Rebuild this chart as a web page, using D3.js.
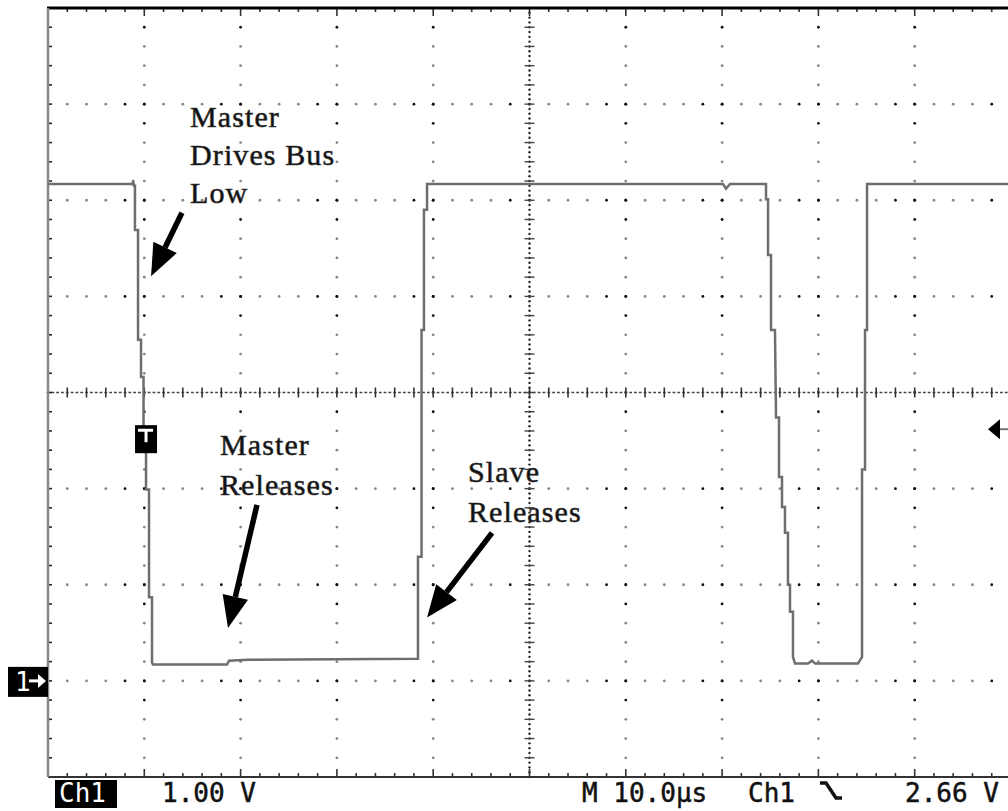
<!DOCTYPE html>
<html>
<head>
<meta charset="utf-8">
<script src="https://cdn.jsdelivr.net/npm/d3@7"></script>
<style>
  html, body { margin: 0; padding: 0; background: #fff; }
  svg { display: block; }
</style>
</head>
<body>
<div id="chart"></div>
<script>
// Ch1 trace, time in µs from left edge of screen, volts (1.00 V/div, 10.0 µs/div)
const traceTime = [0, 8.83, 8.83, 8.93, 9.03, 9.03, 9.35, 9.35, 9.66, 9.66, 9.92, 9.92, 10.18, 10.18, 10.49, 10.49,
  10.80, 10.80, 10.90, 18.59, 18.80, 20.77, 38.42, 38.42, 38.79, 38.79, 39.04, 39.04, 39.36, 39.36,
  70.09, 70.40, 70.82, 74.56, 74.56, 74.77, 74.77, 75.08, 75.08, 75.49, 75.60, 75.91, 75.91, 76.22, 76.22,
  76.53, 76.53, 76.84, 76.84, 77.05, 77.05, 77.36, 77.36, 77.57, 78.92, 79.34, 79.65, 84.11, 84.53, 84.53,
  84.84, 84.84, 85.05, 85.05, 100];
const traceVolts = [5.17, 5.17, 5.21, 5.15, 5.15, 4.69, 4.69, 3.55, 3.55, 3.16, 3.16, 2.61, 2.38, 1.99, 1.99, 0.87,
  0.87, 0.19, 0.17, 0.17, 0.21, 0.22, 0.23, 1.29, 1.29, 3.65, 3.65, 4.90, 4.90, 5.17,
  5.17, 5.12, 5.17, 5.17, 5.01, 5.01, 4.43, 4.43, 3.65, 3.65, 2.74, 2.74, 2.12, 2.12, 1.81,
  1.81, 1.54, 1.54, 1.00, 1.00, 0.72, 0.72, 0.25, 0.18, 0.18, 0.21, 0.18, 0.18, 0.25, 2.20,
  2.20, 3.65, 3.65, 5.17, 5.17];

const triggerTime = 10.18;
const triggerLevel = 2.66;
const groundLevel = 0;

// callouts: label lines, where the text starts, arrow tail and tip (µs, V)
const calloutLines = [["Master", "Drives Bus", "Low"], ["Master", "Releases"], ["Slave", "Releases"]];
const calloutText  = [[14.75, 5.76], [17.86, 2.35], [43.61, 2.07]];
const arrowTail    = [[13.91, 4.87], [21.70, 1.83], [46.11, 1.54]];
const arrowTip     = [[10.70, 4.21], [18.69, 0.55], [39.36, 0.66]];

const statusLabels = ["1.00 V", "M 10.0µs", "Ch1", "2.66 V"];

const W = 1008, H = 811;
const x = d3.scaleLinear().domain([0, 100]).range([48, 1011]);
const y = d3.scaleLinear().domain([-1, 7]).range([777, 8]);

const svg = d3.select('#chart').append('svg').attr('width', W).attr('height', H);
const grid = svg.append('g');

// dotted graticule
const majorX = d3.range(1, 10).filter(k => k !== 5).map(k => k * 10);
const majorY = d3.range(0, 7).filter(k => k !== 3);
const minorY = d3.range(-1, 7.001, 0.2);
const minorX = d3.range(0, 100.01, 2);

majorX.forEach(t => {
  grid.selectAll(null).data(minorY.slice(1, -1)).join('circle')
    .attr('cx', x(t)).attr('cy', d => y(d)).attr('r', 1.4)
    .attr('fill', (d, i) => i % 5 === 4 || i % 5 === 3 ? '#111' : '#888');
});
majorY.forEach(v => {
  grid.selectAll(null).data(minorX.slice(1)).join('circle')
    .attr('cx', d => x(d)).attr('cy', y(v)).attr('r', 1.4)
    .attr('fill', (d, i) => i % 5 === 4 || i % 5 === 3 ? '#111' : '#888');
});

// centre cross
const cx = x(50), cy = y(3);
grid.selectAll(null).data(d3.range(-1, 7.001, 0.05)).join('circle')
  .attr('cx', cx).attr('cy', d => y(d)).attr('r', 1.2).attr('fill', '#222');
grid.selectAll(null).data(minorY).join('line')
  .attr('x1', cx - 5).attr('x2', cx + 5).attr('y1', d => y(d)).attr('y2', d => y(d))
  .attr('stroke', '#444').attr('stroke-width', 1.4);
grid.selectAll(null).data(d3.range(0, 100.01, 0.5)).join('line')
  .attr('x1', d => x(d) - 1.4).attr('x2', d => x(d) + 1.4).attr('y1', cy).attr('y2', cy)
  .attr('stroke', '#444').attr('stroke-width', 1.5);
grid.selectAll(null).data(minorX).join('line')
  .attr('x1', d => x(d)).attr('x2', d => x(d)).attr('y1', cy - 5).attr('y2', cy + 5)
  .attr('stroke', '#333').attr('stroke-width', 1.6);

// frame ticks
grid.selectAll(null).data(minorX).join('line')
  .attr('x1', d => x(d)).attr('x2', d => x(d))
  .attr('y1', y(7)).attr('y2', (d, i) => y(7) + (i % 5 === 0 ? 8 : 4))
  .attr('stroke', '#333').attr('stroke-width', 1.6);
grid.selectAll(null).data(minorX).join('line')
  .attr('x1', d => x(d)).attr('x2', d => x(d))
  .attr('y1', y(-1)).attr('y2', (d, i) => y(-1) - (i % 5 === 0 ? 8 : 4))
  .attr('stroke', '#333').attr('stroke-width', 1.6);
grid.selectAll(null).data(minorY).join('line')
  .attr('x1', x(0)).attr('x2', x(0) + 4).attr('y1', d => y(d)).attr('y2', d => y(d))
  .attr('stroke', '#222').attr('stroke-width', 1.6);

// frame
grid.append('line').attr('x1', x(0) - 1).attr('x2', W).attr('y1', y(7)).attr('y2', y(7))
  .attr('stroke', '#000').attr('stroke-width', 3);
grid.append('line').attr('x1', x(0)).attr('x2', W).attr('y1', y(-1)).attr('y2', y(-1))
  .attr('stroke', '#333').attr('stroke-width', 2.2);
grid.append('line').attr('x1', x(0)).attr('x2', x(0)).attr('y1', y(7)).attr('y2', y(-1))
  .attr('stroke', '#888').attr('stroke-width', 2.5);

// trace
const pts = traceTime.map((t, i) => [t, traceVolts[i]]);
svg.append('path')
  .attr('d', d3.line().x(d => x(d[0])).y(d => y(d[1]))(pts))
  .attr('fill', 'none').attr('stroke', '#6e6e6e').attr('stroke-width', 2.5)
  .attr('stroke-linejoin', 'miter');

// trigger position marker "T"
const tx = x(triggerTime), ty = y(triggerLevel) + 14;
svg.append('rect').attr('x', tx - 11).attr('y', ty - 14).attr('width', 22).attr('height', 28).attr('fill', '#000');
svg.append('path').attr('d', `M${tx - 8},${ty - 9}H${tx + 7}M${tx},${ty - 9}V${ty + 3}`)
  .attr('stroke', '#fff').attr('stroke-width', 3);

// trigger level arrow on right
const ly = y(triggerLevel) + 4;
svg.append('path').attr('d', `M988,${ly}L1000,${ly - 10}L1000,${ly + 10}Z`).attr('fill', '#000');
svg.append('line').attr('x1', 1000).attr('x2', W).attr('y1', ly).attr('y2', ly).attr('stroke', '#777').attr('stroke-width', 2);

// ground marker "1→"
const gy = y(groundLevel);
svg.append('rect').attr('x', 8).attr('y', gy - 14).attr('width', 40).attr('height', 30).attr('fill', '#000');
svg.append('text').attr('x', 15).attr('y', gy + 10).text('1')
  .attr('fill', '#fff').attr('font-family', 'DejaVu Sans Mono').attr('font-size', 26);
svg.append('path').attr('d', `M29,${gy}H40`).attr('stroke', '#fff').attr('stroke-width', 3);
svg.append('path').attr('d', `M38,${gy - 7}L46,${gy}L38,${gy + 7}Z`).attr('fill', '#fff');

// callouts
const ann = svg.append('g')
  .attr('font-family', "'Liberation Serif', 'Times New Roman', serif")
  .attr('font-size', 30).attr('letter-spacing', 1.1).attr('fill', '#111')
  .attr('stroke', '#333').attr('stroke-width', 0.6);
calloutLines.forEach((lines, i) => {
  const [t0, v0] = calloutText[i];
  ann.append('text').attr('x', x(t0)).attr('y', y(v0))
    .selectAll('tspan').data(lines).join('tspan')
    .attr('x', x(t0)).attr('dy', (d, j) => j === 0 ? 0 : (i === 0 ? 38 : 40))
    .text(d => d);
});

arrowTail.forEach((tail, i) => {
  const x0 = x(tail[0]), y0 = y(tail[1]);
  const x1 = x(arrowTip[i][0]), y1 = y(arrowTip[i][1]);
  const a = Math.atan2(y1 - y0, x1 - x0);
  const hl = 32, hw = 13;
  const bx = x1 - hl * Math.cos(a), by = y1 - hl * Math.sin(a);
  svg.append('line').attr('x1', x0).attr('y1', y0).attr('x2', bx).attr('y2', by)
    .attr('stroke', '#000').attr('stroke-width', 5.5);
  svg.append('path')
    .attr('d', `M${x1},${y1}L${bx + hw * Math.sin(a)},${by - hw * Math.cos(a)}L${bx - hw * Math.sin(a)},${by + hw * Math.cos(a)}Z`)
    .attr('fill', '#000');
});

// status line
const status = svg.append('g').attr('font-family', "'DejaVu Sans Mono', monospace").attr('font-size', 26)
  .attr('fill', '#111').attr('stroke', '#111').attr('stroke-width', 0.5);
svg.append('rect').attr('x', 55).attr('y', 780).attr('width', 62).attr('height', 28).attr('fill', '#000');
svg.append('text').attr('x', 59).attr('y', 802).text('Ch1')
  .attr('fill', '#fff').attr('font-family', "'DejaVu Sans Mono', monospace").attr('font-size', 26);
const statusX = [162, 582, 748, 905];
status.selectAll('text').data(statusLabels).join('text')
  .attr('x', (d, i) => statusX[i]).attr('y', 802).text(d => d);
// falling-edge slope symbol
svg.append('path').attr('d', 'M820,783H826L836,798H842')
  .attr('fill', 'none').attr('stroke', '#111').attr('stroke-width', 3.5);
</script>
</body>
</html>
